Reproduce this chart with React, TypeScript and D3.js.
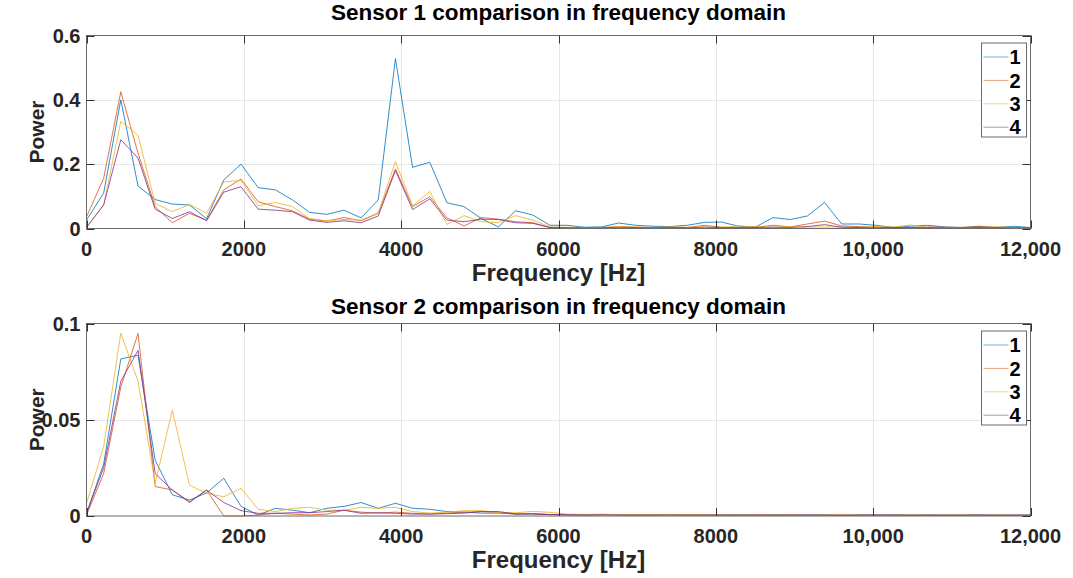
import React, { useEffect, useRef } from 'react';
import * as d3 from 'd3';

// frequency bins (Hz)
const freq = [
  0, 218, 436, 655, 873, 1091, 1309, 1527, 1745, 1964, 2182, 2400, 2618, 2836,
  3055, 3273, 3491, 3709, 3927, 4145, 4364, 4582, 4800, 5018, 5236, 5455, 5673,
  5891, 6109, 6327, 6545, 6764, 6982, 7200, 7418, 7636, 7855, 8073, 8291, 8509,
  8727, 8945, 9164, 9382, 9600, 9818, 10036, 10255, 10473, 10691, 10909, 11127,
  11345, 11564, 11782, 12000,
];

const seriesNames = ['1', '2', '3', '4'];

// Sensor 1
const s1Run1 = [
  0.026, 0.11, 0.4, 0.132, 0.09, 0.076, 0.073, 0.031, 0.151, 0.2, 0.127, 0.12,
  0.089, 0.05, 0.044, 0.057, 0.033, 0.089, 0.528, 0.19, 0.206, 0.08, 0.068,
  0.031, 0.005, 0.055, 0.042, 0.01, 0.01, 0.004, 0.005, 0.017, 0.01, 0.007,
  0.006, 0.01, 0.019, 0.02, 0.007, 0.005, 0.034, 0.028, 0.039, 0.081, 0.014,
  0.014, 0.01, 0.003, 0.007, 0.01, 0.005, 0.003, 0.007, 0.003, 0.007, 0.003,
];
const s1Run2 = [
  0.036, 0.156, 0.425, 0.234, 0.068, 0.018, 0.047, 0.026, 0.12, 0.154, 0.083,
  0.068, 0.055, 0.029, 0.023, 0.034, 0.024, 0.047, 0.185, 0.068, 0.099, 0.033,
  0.008, 0.034, 0.029, 0.021, 0.018, 0.003, 0.003, 0.002, 0.003, 0.005, 0.004,
  0.003, 0.004, 0.003, 0.01, 0.004, 0.003, 0.004, 0.01, 0.005, 0.014, 0.023,
  0.008, 0.006, 0.004, 0.004, 0.003, 0.005, 0.004, 0.003, 0.006, 0.004, 0.003,
  0.003,
];
const s1Run3 = [
  0.005, 0.073, 0.333, 0.29, 0.078, 0.052, 0.075, 0.047, 0.145, 0.149, 0.071,
  0.081, 0.068, 0.031, 0.024, 0.028, 0.026, 0.049, 0.208, 0.071, 0.115, 0.0125,
  0.04, 0.021, 0.018, 0.04, 0.026, 0.005, 0.004, 0.003, 0.003, 0.006, 0.004,
  0.003, 0.005, 0.004, 0.005, 0.003, 0.008, 0.005, 0.004, 0.006, 0.004, 0.005,
  0.004, 0.003, 0.006, 0.004, 0.011, 0.003, 0.002, 0.004, 0.003, 0.005, 0.003,
  0.002,
];
const s1Run4 = [
  0.003, 0.073, 0.276, 0.219, 0.06, 0.031, 0.052, 0.024, 0.113, 0.13, 0.06,
  0.057, 0.052, 0.026, 0.019, 0.024, 0.018, 0.039, 0.18, 0.059, 0.092, 0.026,
  0.021, 0.029, 0.028, 0.018, 0.016, 0.003, 0.002, 0.002, 0.002, 0.004, 0.003,
  0.002, 0.003, 0.002, 0.004, 0.003, 0.002, 0.003, 0.004, 0.003, 0.006, 0.012,
  0.004, 0.003, 0.002, 0.003, 0.002, 0.003, 0.002, 0.002, 0.003, 0.002, 0.002,
  0.002,
];

// Sensor 2
const s2Run1 = [
  0.0014, 0.027, 0.0816, 0.0835, 0.029, 0.011, 0.0083, 0.012, 0.0196, 0.005,
  0.0005, 0.004, 0.003, 0.0017, 0.004, 0.005, 0.007, 0.004, 0.0066, 0.004,
  0.0035, 0.0023, 0.002, 0.0015, 0.0015, 0.001, 0.0012, 0.0008, 0.0007, 0.0006,
  0.0008, 0.0007, 0.0005, 0.0006, 0.0008, 0.0006, 0.0005, 0.0007, 0.0006,
  0.0005, 0.0006, 0.0007, 0.0005, 0.0006, 0.0005, 0.0006, 0.0005, 0.0006,
  0.0005, 0.0006, 0.0005, 0.0005, 0.0006, 0.0005, 0.0005, 0.0005,
];
const s2Run2 = [
  0.0005, 0.022, 0.067, 0.0948, 0.0153, 0.0135, 0.0075, 0.0135, 0.0, 0.0,
  0.0005, 0.0014, 0.001, 0.0005, 0.001, 0.003, 0.002, 0.0015, 0.002, 0.0014,
  0.001, 0.0015, 0.002, 0.0023, 0.0019, 0.001, 0.0012, 0.0007, 0.0006, 0.0005,
  0.0006, 0.0005, 0.0004, 0.0005, 0.0006, 0.0005, 0.0004, 0.0005, 0.0004,
  0.0005, 0.0004, 0.0005, 0.0004, 0.0004, 0.0005, 0.0004, 0.0004, 0.0005,
  0.0004, 0.0004, 0.0004, 0.0005, 0.0004, 0.0004, 0.0004, 0.0004,
];
const s2Run3 = [
  0.0066, 0.036, 0.095, 0.07, 0.017, 0.055, 0.016, 0.0118, 0.01, 0.0144, 0.0035,
  0.0023, 0.004, 0.0045, 0.003, 0.003, 0.0045, 0.004, 0.0045, 0.0023, 0.0015,
  0.002, 0.0028, 0.0028, 0.0018, 0.0017, 0.0024, 0.0019, 0.001, 0.0008, 0.0009,
  0.0007, 0.0008, 0.0006, 0.0007, 0.0006, 0.0007, 0.0006, 0.0005, 0.0006,
  0.0005, 0.0006, 0.0005, 0.0005, 0.0006, 0.0005, 0.0005, 0.0004, 0.0005,
  0.0005, 0.0004, 0.0005, 0.0004, 0.0005, 0.0004, 0.0004,
];
const s2Run4 = [
  0.0014, 0.025, 0.07, 0.086, 0.022, 0.0135, 0.007, 0.0135, 0.007, 0.0028,
  0.0014, 0.0014, 0.0017, 0.0017, 0.0023, 0.003, 0.0014, 0.0017, 0.0014, 0.001,
  0.001, 0.0012, 0.0015, 0.0023, 0.0023, 0.0011, 0.001, 0.0007, 0.0006, 0.0005,
  0.0006, 0.0005, 0.0005, 0.0004, 0.0005, 0.0004, 0.0005, 0.0004, 0.0004,
  0.0005, 0.0004, 0.0004, 0.0005, 0.0004, 0.0004, 0.0004, 0.0005, 0.0004,
  0.0004, 0.0004, 0.0004, 0.0004, 0.0004, 0.0004, 0.0004, 0.0004,
];

const xTicks = [0, 2000, 4000, 6000, 8000, 10000, 12000];
const xTickLabels = ['0', '2000', '4000', '6000', '8000', '10,000', '12,000'];
const y1Ticks = [0, 0.2, 0.4, 0.6];
const y1TickLabels = ['0', '0.2', '0.4', '0.6'];
const y2Ticks = [0, 0.05, 0.1];
const y2TickLabels = ['0', '0.05', '0.1'];

const colors = ['#0072BD', '#D95319', '#EDB120', '#7E2F8E'];

const FONT = '"Liberation Sans", Arial, Helvetica, sans-serif';

interface PanelSpec {
  title: string;
  top: number;
  bottom: number;
  yMax: number;
  yTicks: number[];
  yTickLabels: string[];
  series: number[][];
}

const panels: PanelSpec[] = [
  {
    title: 'Sensor 1 comparison in frequency domain',
    top: 35.5,
    bottom: 228.5,
    yMax: 0.6,
    yTicks: y1Ticks,
    yTickLabels: y1TickLabels,
    series: [s1Run1, s1Run2, s1Run3, s1Run4],
  },
  {
    title: 'Sensor 2 comparison in frequency domain',
    top: 323.5,
    bottom: 516,
    yMax: 0.1,
    yTicks: y2Ticks,
    yTickLabels: y2TickLabels,
    series: [s2Run1, s2Run2, s2Run3, s2Run4],
  },
];

export default function App() {
  const svgRef = useRef<SVGSVGElement>(null);
  const width = 1073;
  const height = 578;

  useEffect(() => {
    if (!svgRef.current) return;
    const svg = d3.select(svgRef.current);
    svg.selectAll('*').remove();

    const left = 86.5;
    const right = 1030.5;

    const xScale = d3.scaleLinear().domain([0, 12000]).range([left, right]);

    panels.forEach((p, pi) => {
      const yScale = d3.scaleLinear().domain([0, p.yMax]).range([p.bottom, p.top]);
      const g = svg.append('g');

      // grid
      g.selectAll('.vgrid')
        .data(xTicks.slice(1, -1))
        .enter().append('line')
        .attr('x1', d => Math.round(xScale(d)) + 0.5)
        .attr('x2', d => Math.round(xScale(d)) + 0.5)
        .attr('y1', p.top)
        .attr('y2', p.bottom)
        .attr('stroke', '#e6e6e6')
        .attr('stroke-width', 1);

      g.selectAll('.hgrid')
        .data(p.yTicks.slice(1, -1))
        .enter().append('line')
        .attr('x1', left)
        .attr('x2', right)
        .attr('y1', d => Math.round(yScale(d)) + 0.5)
        .attr('y2', d => Math.round(yScale(d)) + 0.5)
        .attr('stroke', '#e6e6e6')
        .attr('stroke-width', 1);

      // lines
      const line = d3.line<number>()
        .x((_, i) => xScale(freq[i]))
        .y(d => yScale(d));

      p.series.forEach((s, k) => {
        g.append('path')
          .datum(s)
          .attr('fill', 'none')
          .attr('stroke', colors[k])
          .attr('stroke-width', 1)
          .attr('stroke-opacity', 0.8)
          .attr('stroke-linejoin', 'round')
          .attr('d', line);
      });

      // box
      g.append('rect')
        .attr('x', left)
        .attr('y', p.top)
        .attr('width', right - left)
        .attr('height', p.bottom - p.top)
        .attr('fill', 'none')
        .attr('stroke', '#6b6b6b')
        .attr('stroke-width', 1);

      // ticks (inward, on all four sides)
      const tl = 8;
      xTicks.forEach((t) => {
        const x = Math.round(xScale(t)) + 0.5;
        g.append('line').attr('x1', x).attr('x2', x)
          .attr('y1', p.bottom).attr('y2', p.bottom - tl)
          .attr('stroke', '#333').attr('stroke-width', 1);
        g.append('line').attr('x1', x).attr('x2', x)
          .attr('y1', p.top).attr('y2', p.top + tl)
          .attr('stroke', '#333').attr('stroke-width', 1);
      });
      p.yTicks.forEach((t) => {
        const y = Math.round(yScale(t)) + 0.5;
        g.append('line').attr('x1', left).attr('x2', left + tl)
          .attr('y1', y).attr('y2', y)
          .attr('stroke', '#333').attr('stroke-width', 1);
        g.append('line').attr('x1', right).attr('x2', right - tl)
          .attr('y1', y).attr('y2', y)
          .attr('stroke', '#333').attr('stroke-width', 1);
      });

      // tick labels
      g.selectAll('.xlab')
        .data(xTicks)
        .enter().append('text')
        .attr('x', d => xScale(d))
        .attr('y', p.bottom + 27)
        .attr('text-anchor', 'middle')
        .attr('font-family', FONT)
        .attr('font-weight', 'bold')
        .attr('font-size', 20)
        .attr('fill', '#262626')
        .text((_, i) => xTickLabels[i]);

      g.selectAll('.ylab')
        .data(p.yTicks)
        .enter().append('text')
        .attr('x', left - 6)
        .attr('y', d => yScale(d))
        .attr('dy', '0.36em')
        .attr('text-anchor', 'end')
        .attr('font-family', FONT)
        .attr('font-weight', 'bold')
        .attr('font-size', 20)
        .attr('fill', '#262626')
        .text((_, i) => p.yTickLabels[i]);

      // title
      g.append('text')
        .attr('x', (left + right) / 2)
        .attr('y', pi === 0 ? 20 : p.top - 9.5)
        .attr('text-anchor', 'middle')
        .attr('font-family', FONT)
        .attr('font-weight', 'bold')
        .attr('font-size', 22.5)
        .attr('fill', '#000')
        .text(p.title);

      // x label
      g.append('text')
        .attr('x', (left + right) / 2)
        .attr('y', p.bottom + 52)
        .attr('text-anchor', 'middle')
        .attr('font-family', FONT)
        .attr('font-weight', 'bold')
        .attr('font-size', 24)
        .attr('fill', '#262626')
        .text('Frequency [Hz]');

      // y label
      g.append('text')
        .attr('transform', `translate(44,${(p.top + p.bottom) / 2}) rotate(-90)`)
        .attr('text-anchor', 'middle')
        .attr('font-family', FONT)
        .attr('font-weight', 'bold')
        .attr('font-size', 21)
        .attr('fill', '#262626')
        .text('Power');

      // legend
      const lg = g.append('g').attr('transform', `translate(981.5,${p.top + 7.5})`);
      lg.append('rect')
        .attr('x', 0)
        .attr('y', 0)
        .attr('width', 45)
        .attr('height', 94)
        .attr('fill', '#fff')
        .attr('stroke', '#6b6b6b')
        .attr('stroke-width', 1);
      seriesNames.forEach((name, k) => {
        const cy = 14 + k * 23.4;
        lg.append('line')
          .attr('x1', 2)
          .attr('x2', 27)
          .attr('y1', cy)
          .attr('y2', cy)
          .attr('stroke', colors[k])
          .attr('stroke-opacity', 0.55)
          .attr('stroke-width', 1);
        lg.append('text')
          .attr('x', 28)
          .attr('y', cy)
          .attr('dy', '0.36em')
          .attr('font-family', FONT)
          .attr('font-weight', 'bold')
          .attr('font-size', 20)
          .attr('fill', '#000')
          .text(name);
      });
    });
  }, []);

  return (
    <svg
      ref={svgRef}
      width={width}
      height={height}
      style={{ position: 'absolute', left: 0, top: 0, background: '#fff' }}
    />
  );
}
